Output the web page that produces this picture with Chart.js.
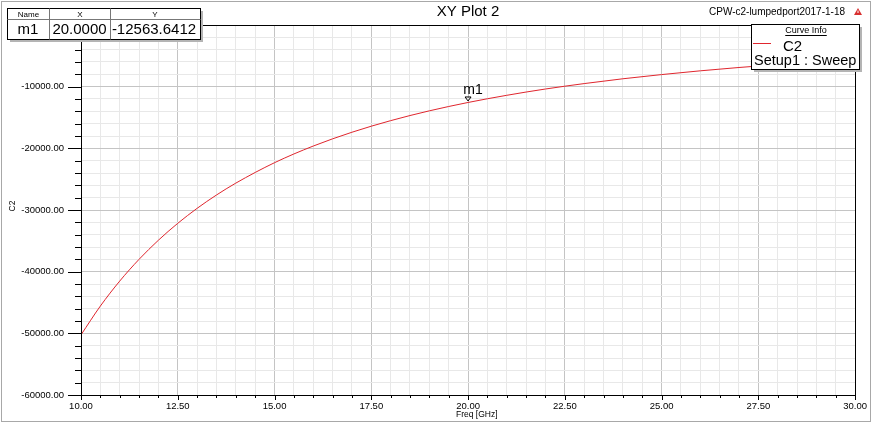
<!DOCTYPE html>
<html>
<head>
<meta charset="utf-8">
<script src="https://cdn.jsdelivr.net/npm/chart.js@4.4.1/dist/chart.umd.min.js"></script>
<style>
html,body{margin:0;padding:0;background:#fff;}
#wrap{width:873px;height:424px;}
</style>
</head>
<body>
<div id="wrap"><canvas id="plot" width="873" height="424"></canvas></div>
<script>
// C2 vs Freq, Setup1 : Sweep
const freqGHz = [10,10.5,11,11.5,12,12.5,13,13.5,14,15,16,17,18,19,20,21,22,23,24,25,26,27,28,29,30];
const c2Vals = [-50250,-45580,-41530,-38000,-34900,-32160,-29730,-27570,-25640,-22330,-19630,-17390,-15510,-13920,-12564,-11400,-10380,-9500,-8720,-8040,-7430,-6890,-6410,-5975,-5585];

const marker = { name:'m1', x:20.0000, y:-12563.6412 };

const xMin = 10, xMax = 30, xMinor = 0.5, xMajor = 2.5;
const yMin = -60000, yMax = 0, yMinor = 2000, yMajor = 10000;

const FONT = 'Arial, "Liberation Sans", sans-serif';
const curveColor = '#e0262e';

function isMajor(v, step){ return Math.abs(v/step - Math.round(v/step)) < 1e-6 }
function px(v){ return Math.round(v) + 0.5 }

const hfssDecor = {
  id: 'hfssDecor',
  beforeDraw(chart){
    const ctx = chart.ctx;
    ctx.save();
    ctx.fillStyle = '#fff';
    ctx.fillRect(0, 0, chart.width, chart.height);
    ctx.restore();
  },
  afterDraw(chart){
    const { ctx, chartArea:a, scales } = chart;
    const sx = scales.x, sy = scales.y;
    ctx.save();

    // outer frame
    ctx.strokeStyle = '#a8a8a8';
    ctx.lineWidth = 1;
    ctx.strokeRect(1.5, 1.5, chart.width - 4, chart.height - 4);

    // plot frame
    ctx.strokeStyle = '#000';
    ctx.strokeRect(px(a.left), px(a.top), Math.round(a.right) - Math.round(a.left), Math.round(a.bottom) - Math.round(a.top));

    // tick marks
    ctx.beginPath();
    for(let v = xMin; v <= xMax + 1e-9; v += xMinor){
      const x = px(sx.getPixelForValue(v));
      const len = isMajor(v, xMajor) ? 5 : 3;
      ctx.moveTo(x, Math.round(a.bottom)); ctx.lineTo(x, Math.round(a.bottom) + len);
    }
    for(let v = yMin; v <= yMax; v += yMinor){
      const y = px(sy.getPixelForValue(v));
      const len = isMajor(v, yMajor) ? 13 : 6;
      ctx.moveTo(Math.round(a.left) - len, y); ctx.lineTo(Math.round(a.left), y);
    }
    ctx.stroke();

    // titles
    ctx.fillStyle = '#000';
    ctx.textBaseline = 'middle';
    ctx.font = '15px ' + FONT;
    ctx.textAlign = 'center';
    ctx.fillText('XY Plot 2', 468, 12);
    ctx.font = '10px ' + FONT;
    ctx.textAlign = 'right';
    ctx.fillText('CPW-c2-lumpedport2017-1-18', 845, 12);

    // little warning icon
    ctx.fillStyle = '#d83030';
    ctx.beginPath();
    ctx.moveTo(858, 8); ctx.lineTo(862, 15); ctx.lineTo(854, 15); ctx.closePath();
    ctx.fill();
    ctx.fillStyle = '#fff';
    ctx.fillRect(857.5, 10.5, 1, 2.5);

    // axis titles
    ctx.fillStyle = '#000';
    ctx.font = '8.5px ' + FONT;
    ctx.textAlign = 'left';
    ctx.fillText('Freq [GHz]', 456, 415);
    ctx.save();
    ctx.translate(13, 206);
    ctx.rotate(-Math.PI/2);
    ctx.textAlign = 'center';
    ctx.fillText('C2', 0, 0);
    ctx.restore();

    // marker m1
    const mx = sx.getPixelForValue(marker.x), my = sy.getPixelForValue(marker.y);
    ctx.strokeStyle = '#000';
    ctx.beginPath();
    ctx.moveTo(mx - 3, my - 5.5); ctx.lineTo(mx + 3, my - 5.5); ctx.lineTo(mx, my - 1.5); ctx.closePath();
    ctx.stroke();
    ctx.font = '14px ' + FONT;
    ctx.textAlign = 'center';
    ctx.fillText(marker.name, mx + 5, my - 12);

    // marker table
    ctx.fillStyle = '#b4b4b4';
    ctx.fillRect(10, 11, 193, 31);
    ctx.fillStyle = '#fff';
    ctx.fillRect(7, 8, 193, 31);
    ctx.strokeStyle = '#000';
    ctx.strokeRect(7.5, 8.5, 193, 31);
    ctx.strokeStyle = '#777';
    ctx.beginPath();
    ctx.moveTo(7.5, 19.5); ctx.lineTo(200.5, 19.5);
    ctx.moveTo(49.5, 8.5); ctx.lineTo(49.5, 39.5);
    ctx.moveTo(110.5, 8.5); ctx.lineTo(110.5, 39.5);
    ctx.stroke();
    ctx.fillStyle = '#000';
    ctx.font = '8px ' + FONT;
    ctx.fillText('Name', 28.5, 14.5);
    ctx.fillText('X', 80, 14.5);
    ctx.fillText('Y', 155, 14.5);
    ctx.font = '15px ' + FONT;
    ctx.fillText(marker.name, 28, 30);
    ctx.fillText(marker.x.toFixed(4), 79.5, 30);
    ctx.fillText(marker.y.toFixed(4), 154, 30);

    // curve info legend
    ctx.fillStyle = '#b4b4b4';
    ctx.fillRect(754, 27, 108, 45);
    ctx.fillStyle = '#fff';
    ctx.fillRect(751, 24, 108, 45);
    ctx.strokeStyle = '#000';
    ctx.strokeRect(751.5, 24.5, 108, 45);
    ctx.fillStyle = '#000';
    ctx.font = '9px ' + FONT;
    ctx.fillText('Curve Info', 806, 31);
    const uw = ctx.measureText('Curve Info').width;
    ctx.fillRect(806 - uw/2, 35, uw, 1);
    ctx.strokeStyle = curveColor;
    ctx.beginPath();
    ctx.moveTo(753, 43.5); ctx.lineTo(771, 43.5);
    ctx.stroke();
    ctx.textAlign = 'left';
    ctx.font = '15px ' + FONT;
    ctx.fillText('C2', 783, 47);
    ctx.font = '14.5px ' + FONT;
    ctx.fillText('Setup1 : Sweep', 754, 61);

    ctx.restore();
  }
};

const points = freqGHz.map((f, i) => ({ x: f, y: c2Vals[i] }));

new Chart(document.getElementById('plot'), {
  type: 'line',
  data: { datasets: [{
    label: 'C2',
    data: points,
    borderColor: curveColor,
    borderWidth: 1,
    pointRadius: 0,
    cubicInterpolationMode: 'monotone',
    fill: false
  }]},
  options: {
    responsive: false,
    animation: false,
    devicePixelRatio: 1,
    layout: { padding: { left: 0, top: 25, right: 17, bottom: 0 } },
    plugins: { legend: { display: false }, tooltip: { enabled: false } },
    scales: {
      x: {
        type: 'linear', min: xMin, max: xMax,
        afterFit: s => { s.height = 29; },
        border: { display: false },
        grid: {
          drawTicks: false,
          color: c => isMajor(c.tick.value, xMajor) ? '#c4c4c4' : '#e8e8e8'
        },
        ticks: {
          stepSize: xMinor, autoSkip: false, maxRotation: 0, padding: 6,
          color: '#000', font: { family: FONT, size: 9.5 },
          callback: v => isMajor(v, xMajor) ? v.toFixed(2) : ''
        }
      },
      y: {
        type: 'linear', min: yMin, max: yMax,
        afterFit: s => { s.width = 81; },
        border: { display: false },
        grid: {
          drawTicks: false,
          color: c => isMajor(c.tick.value, yMajor) ? '#c4c4c4' : '#e8e8e8'
        },
        ticks: {
          stepSize: yMinor, autoSkip: false, padding: 17,
          color: '#000', font: { family: FONT, size: 9.5 },
          callback: v => isMajor(v, yMajor) ? v.toFixed(2) : ''
        }
      }
    }
  },
  plugins: [hfssDecor]
});
</script>
</body>
</html>
